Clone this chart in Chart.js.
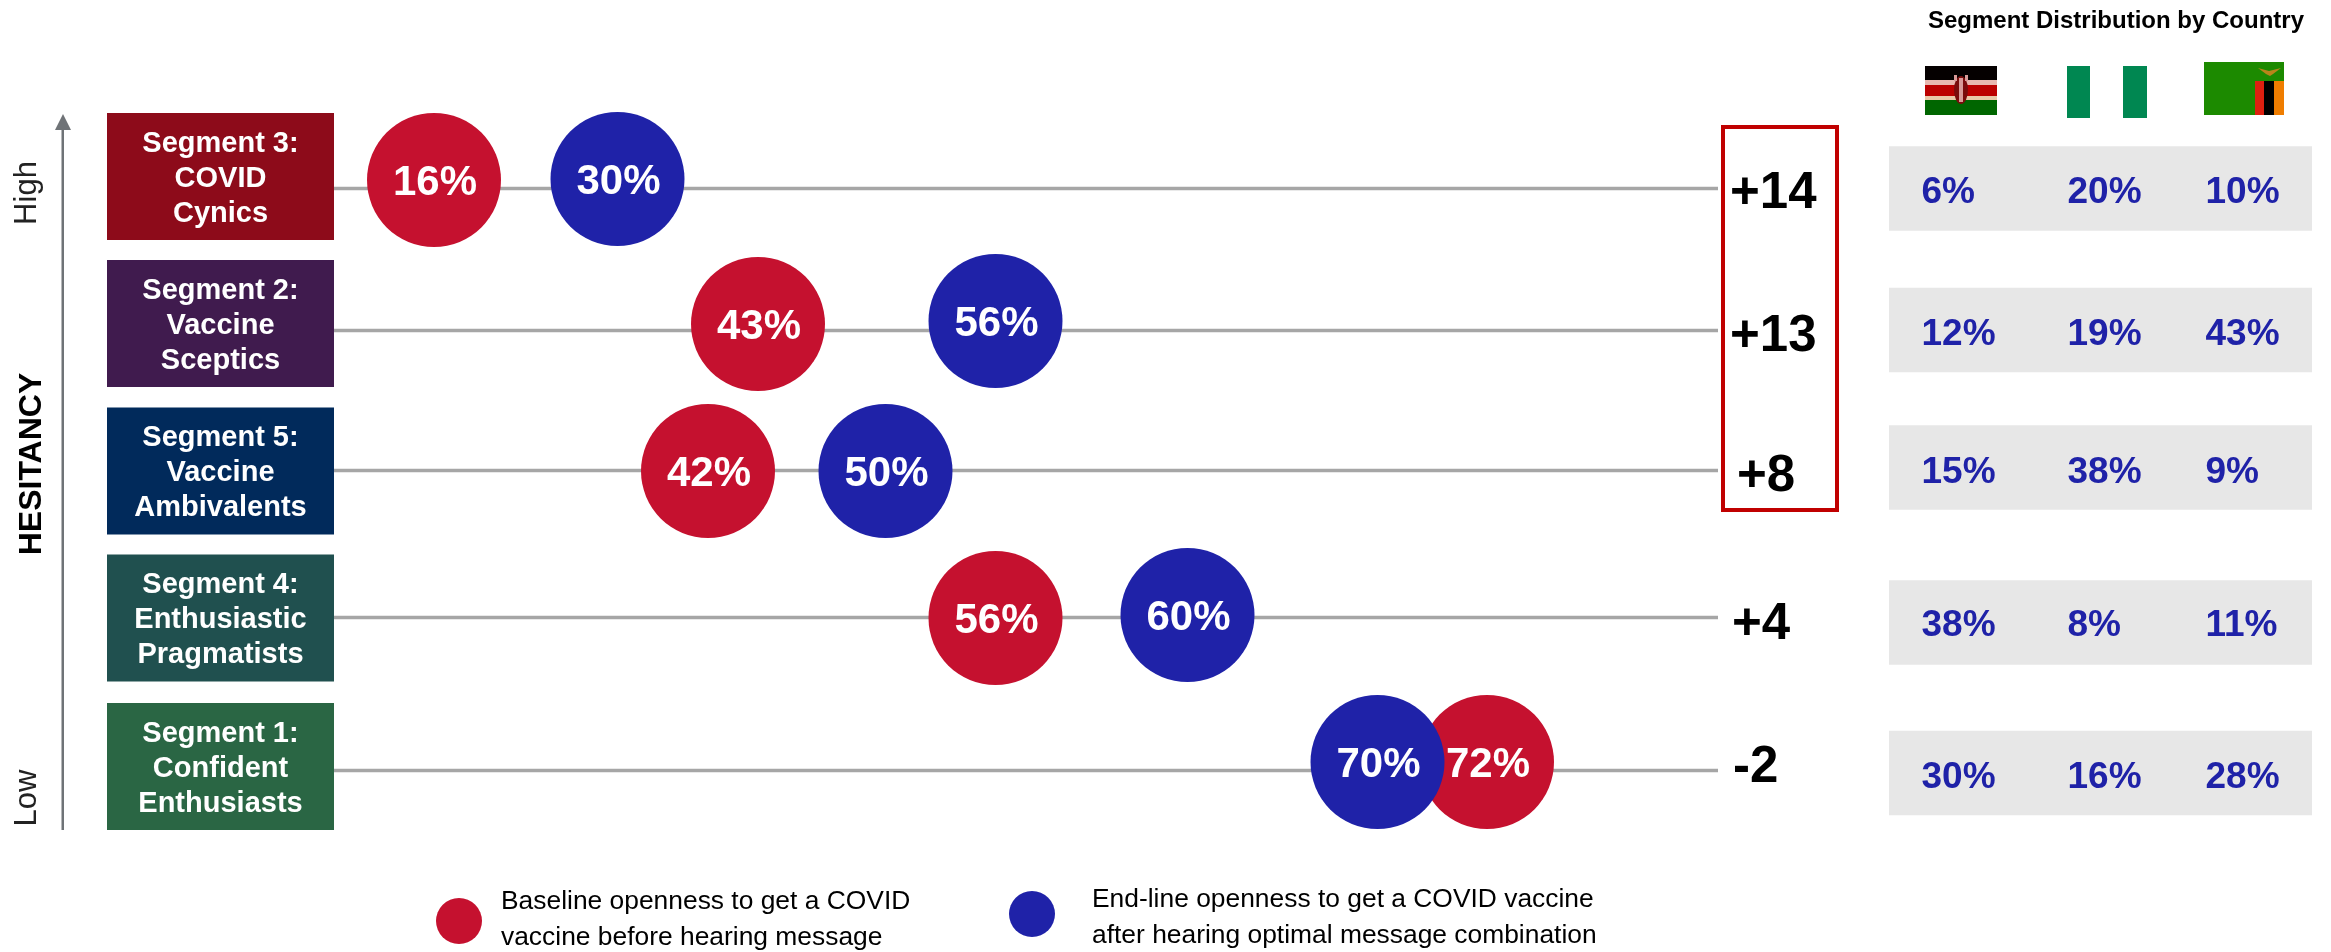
<!DOCTYPE html>
<html>
<head>
<meta charset="utf-8">
<title>Openness by segment</title>
<script src="https://cdn.jsdelivr.net/npm/chart.js@4"></script>
<style>
  html, body { margin: 0; padding: 0; background: #fff; }
  canvas { display: block; }
</style>
</head>
<body>
<canvas id="segmentChart" width="2331" height="952"></canvas>
<script>
// rows run top to bottom, highest hesitancy first
const segmentNames = ['Segment 3:', 'Segment 2:', 'Segment 5:', 'Segment 4:', 'Segment 1:']
const segmentTitles = [['COVID', 'Cynics'], ['Vaccine', 'Sceptics'], ['Vaccine', 'Ambivalents'], ['Enthusiastic', 'Pragmatists'], ['Confident', 'Enthusiasts']]
const segmentColors = ['#8d0b1a', '#401b4e', '#012a5b', '#20504f', '#2a6644']
const baseline = [16, 43, 42, 56, 72]
const endline = [30, 56, 50, 60, 70]
const change = ['+14', '+13', '+8', '+4', '-2']
const countries = ['Kenya', 'Nigeria', 'Zambia']
const kenya = [6, 12, 15, 38, 30]
const nigeria = [20, 19, 38, 8, 16]
const zambia = [10, 43, 9, 11, 28]

const RED = '#c5112f'
const BLUE = '#1f22a8'
const FONT = '"Liberation Sans", Arial, sans-serif'

// the source slide spaces its axis by hand, so the scale is a lookup and not a straight line
class PlacedScale extends Chart.LinearScale {
  static id = 'placed'
  getPixelForValue(value) {
    const stops = this.options.stops
    let i = 0
    while (i < stops.length - 2 && value > stops[i + 1][0]) i++
    const a = stops[i], b = stops[i + 1]
    return a[1] + (value - a[0]) / (b[0] - a[0]) * (b[1] - a[1])
  }
}
Chart.register(PlacedScale)

const xAxis = (stops) => ({ type: 'placed', axis: 'x', position: 'bottom', display: false, stops })
const rowAxis = (places) => ({ type: 'placed', axis: 'y', position: 'left', display: false, stops: places.map((p, i) => [i, p]) })

const scales = {
  xPct: xAxis([[16, 434], [30, 617.5], [42, 708], [43, 758], [50, 885.5], [56, 995.5], [60, 1187.5], [70, 1377.5], [72, 1487]]),
  xLine: xAxis([[0, 334], [1, 1718]]),
  xBox: xAxis([[0, 107], [1, 334]]),
  xBand: xAxis([[0, 1889], [1, 2312]]),
  xChange: xAxis([[0, 1730], [1, 1730], [2, 1737], [3, 1732], [4, 1733]]),
  xCell: xAxis([[0, 1921.5], [1, 2067.5], [2, 2205.5]]),
  yBase: rowAxis([180, 324, 471, 618, 762]),
  yEnd: rowAxis([179, 321, 471, 615, 762]),
  yLine: rowAxis([188.5, 330.5, 470.5, 617.5, 770.5]),
  yBox: rowAxis([176.5, 323.5, 471, 618, 766.5]),
  yBand: rowAxis([188.5, 330, 467.5, 622.5, 773]),
  yChange: rowAxis([194, 337, 477, 625, 768]),
  yCell: rowAxis([193, 335, 473, 626, 778])
}

const datasets = []
segmentNames.forEach((name, i) => {
  datasets.push({
    type: 'line', label: 'band ' + i, order: 5, xAxisID: 'xBand', yAxisID: 'yBand', clip: false,
    data: [{ x: 0, y: i }, { x: 1, y: i }], borderColor: '#e7e7e7', borderWidth: 84.5, borderCapStyle: 'butt', pointRadius: 0
  })
  datasets.push({
    type: 'line', label: 'line ' + i, order: 4, xAxisID: 'xLine', yAxisID: 'yLine', clip: false,
    data: [{ x: 0, y: i }, { x: 1, y: i }], borderColor: '#a6a6a6', borderWidth: 3.5, pointRadius: 0
  })
})
datasets.push({
  label: 'Baseline', order: 2, xAxisID: 'xPct', yAxisID: 'yBase', clip: false, showLine: false,
  data: baseline.map((v, i) => ({ x: v, y: i })), backgroundColor: RED, borderWidth: 0, pointRadius: 67
})
datasets.push({
  label: 'End-line', order: 1, xAxisID: 'xPct', yAxisID: 'yEnd', clip: false, showLine: false,
  data: endline.map((v, i) => ({ x: v, y: i })), backgroundColor: BLUE, borderWidth: 0, pointRadius: 67
})
datasets.push({
  label: 'Change', order: 3, xAxisID: 'xChange', yAxisID: 'yChange', clip: false, showLine: false,
  data: change.map((v, i) => ({ x: i, y: i })), pointRadius: 0
})
;[kenya, nigeria, zambia].forEach((col, c) => {
  datasets.push({
    label: countries[c], order: 3, xAxisID: 'xCell', yAxisID: 'yCell', clip: false, showLine: false,
    data: col.map((v, i) => ({ x: c, y: i })), pointRadius: 0
  })
})

function put(ctx, text, x, y, font, color, align) {
  ctx.font = font
  ctx.fillStyle = color
  ctx.textAlign = align || 'center'
  ctx.textBaseline = 'middle'
  ctx.fillText(text, x, y)
}

function putRotated(ctx, text, x, y, font, color) {
  ctx.save()
  ctx.translate(x, y)
  ctx.rotate(-Math.PI / 2)
  put(ctx, text, 0, 0, font, color)
  ctx.restore()
}

function drawFlags(ctx) {
  // Kenya
  ctx.fillStyle = '#050000'; ctx.fillRect(1925, 66, 72, 14)
  ctx.fillStyle = '#e8b8b0'; ctx.fillRect(1925, 80, 72, 5)
  ctx.fillStyle = '#bb0000'; ctx.fillRect(1925, 85, 72, 11)
  ctx.fillStyle = '#e8c8a8'; ctx.fillRect(1925, 96, 72, 4)
  ctx.fillStyle = '#006600'; ctx.fillRect(1925, 100, 72, 15)
  ctx.fillStyle = '#7a0c0c'
  ctx.beginPath(); ctx.ellipse(1961, 90, 7, 14, 0, 0, Math.PI * 2); ctx.fill()
  ctx.fillStyle = '#d89a98'
  ctx.fillRect(1959, 78, 4, 24)
  ctx.fillRect(1954, 75, 3, 6)
  ctx.fillRect(1965, 75, 3, 6)
  // Nigeria
  ctx.fillStyle = '#008751'; ctx.fillRect(2067, 66, 23, 52); ctx.fillRect(2123, 66, 24, 52)
  // Zambia
  ctx.fillStyle = '#1c8a00'; ctx.fillRect(2204, 62, 80, 53)
  ctx.fillStyle = '#de2010'; ctx.fillRect(2255, 81, 9, 34)
  ctx.fillStyle = '#000'; ctx.fillRect(2264, 81, 10, 34)
  ctx.fillStyle = '#ef7d00'; ctx.fillRect(2274, 81, 10, 34)
  ctx.fillStyle = '#b8841a'
  ctx.beginPath(); ctx.moveTo(2258, 68); ctx.lineTo(2269, 71); ctx.lineTo(2281, 68); ctx.lineTo(2273, 74); ctx.lineTo(2270, 76); ctx.lineTo(2266, 74); ctx.closePath(); ctx.fill()
}

const slidePlugin = {
  id: 'slide',
  beforeDatasetsDraw(chart) {
    const ctx = chart.ctx
    const sx = chart.scales.xBox, sy = chart.scales.yBox
    segmentNames.forEach((name, i) => {
      const left = sx.getPixelForValue(0), right = sx.getPixelForValue(1), mid = sy.getPixelForValue(i)
      ctx.fillStyle = segmentColors[i]
      ctx.fillRect(left, mid - 63.5, right - left, 127)
      const font = 'bold 29px ' + FONT, cx = (left + right) / 2
      put(ctx, name, cx, mid - 33, font, '#fff')
      put(ctx, segmentTitles[i][0], cx, mid + 2, font, '#fff')
      put(ctx, segmentTitles[i][1], cx, mid + 37, font, '#fff')
    })
  },
  afterDatasetsDraw(chart) {
    const ctx = chart.ctx
    ctx.save()
    chart.data.datasets.forEach((ds, d) => {
      const points = chart.getDatasetMeta(d).data
      if (ds.label === 'Baseline' || ds.label === 'End-line') {
        const values = ds.label === 'Baseline' ? baseline : endline
        points.forEach((p, i) => put(ctx, values[i] + '%', p.x + 1, p.y + 3, 'bold 42px ' + FONT, '#fff'))
      } else if (ds.label === 'Change') {
        points.forEach((p, i) => put(ctx, change[i], p.x, p.y, 'bold 51px ' + FONT, '#000', 'left'))
      } else if (countries.includes(ds.label)) {
        const values = [kenya, nigeria, zambia][countries.indexOf(ds.label)]
        points.forEach((p, i) => put(ctx, values[i] + '%', p.x, p.y, 'bold 37px ' + FONT, BLUE, 'left'))
      }
    })

    // hesitancy arrow
    ctx.fillStyle = '#6f7377'
    ctx.fillRect(61.5, 128, 2.5, 702)
    ctx.beginPath(); ctx.moveTo(63, 114); ctx.lineTo(71, 130); ctx.lineTo(55, 130); ctx.closePath(); ctx.fill()
    putRotated(ctx, 'High', 27, 193, '31px ' + FONT, '#222')
    putRotated(ctx, 'HESITANCY', 32, 464, 'bold 32px ' + FONT, '#000')
    putRotated(ctx, 'Low', 27, 798, '31px ' + FONT, '#222')

    // highlight round the top three changes
    ctx.strokeStyle = '#c00000'
    ctx.lineWidth = 4
    ctx.strokeRect(1723, 127, 114, 383)

    put(ctx, 'Segment Distribution by Country', 2116, 21, 'bold 24px ' + FONT, '#000')
    drawFlags(ctx)

    // legend
    const legendFont = '26.4px ' + FONT
    ctx.fillStyle = RED
    ctx.beginPath(); ctx.arc(459, 921, 23, 0, Math.PI * 2); ctx.fill()
    put(ctx, 'Baseline openness to get a COVID', 501, 902, legendFont, '#000', 'left')
    put(ctx, 'vaccine before hearing message', 501, 938, legendFont, '#000', 'left')
    ctx.fillStyle = BLUE
    ctx.beginPath(); ctx.arc(1032, 914, 23, 0, Math.PI * 2); ctx.fill()
    put(ctx, 'End-line openness to get a COVID vaccine', 1092, 900, legendFont, '#000', 'left')
    put(ctx, 'after hearing optimal message combination', 1092, 936, legendFont, '#000', 'left')
    ctx.restore()
  }
}

const chart = new Chart(document.getElementById('segmentChart'), {
  type: 'scatter',
  data: { datasets },
  options: {
    responsive: false,
    animation: false,
    layout: { padding: 0 },
    scales,
    plugins: { legend: { display: false }, tooltip: { enabled: false }, title: { display: false } }
  },
  plugins: [slidePlugin]
})
</script>
</body>
</html>
